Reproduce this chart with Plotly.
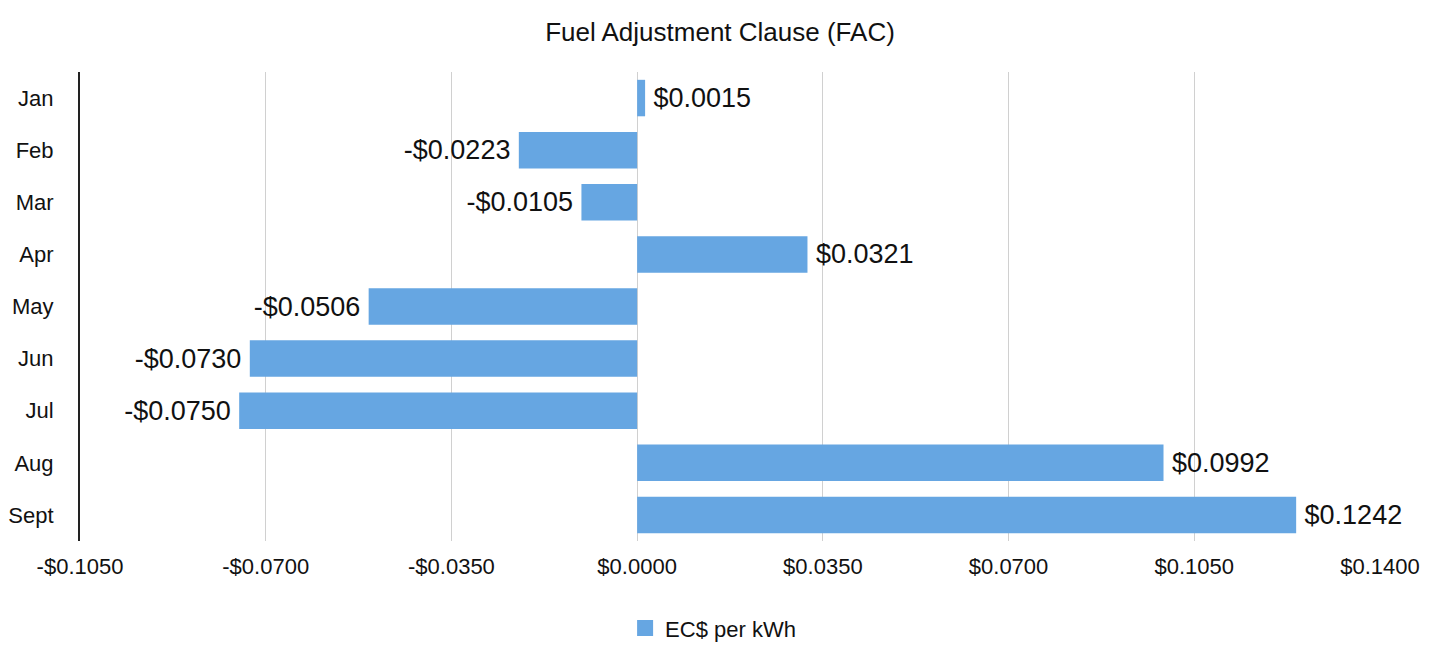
import plotly.graph_objects as go

months = ["Jan", "Feb", "Mar", "Apr", "May", "Jun", "Jul", "Aug", "Sept"]
values = [0.0015, -0.0223, -0.0105, 0.0321, -0.0506, -0.0730, -0.0750, 0.0992, 0.1242]
tick_vals = [-0.105, -0.07, -0.035, 0.0, 0.035, 0.07, 0.105, 0.14]
tick_text = ["-$0.1050", "-$0.0700", "-$0.0350", "$0.0000", "$0.0350", "$0.0700", "$0.1050", "$0.1400"]
series_name = "EC$ per kWh"

labels = [("-$" if v < 0 else "$") + f"{abs(v):.4f}" for v in values]
bar_color = "#66A6E2"

fig = go.Figure()
fig.add_trace(go.Bar(
    x=values, y=months, orientation="h",
    marker=dict(color=bar_color, line=dict(width=0)),
    text=["\u2009" + t if v >= 0 else t + "\u2009" for t, v in zip(labels, values)],
    textposition="outside", cliponaxis=False,
    textfont=dict(size=27, color="#111111"),
    name=series_name, showlegend=False,
))
fig.add_trace(go.Scatter(
    x=[None], y=[None], mode="markers", name=series_name,
    marker=dict(symbol="square", size=21, color=bar_color),
    showlegend=True,
))

fig.update_layout(
    width=1440, height=655,
    paper_bgcolor="white", plot_bgcolor="white",
    font=dict(family="Liberation Sans, Arial, sans-serif", color="#111111"),
    title=dict(text="Fuel Adjustment Clause (FAC)", x=0.5, xanchor="center", y=0.951, yanchor="middle",
               font=dict(size=26, color="#111111")),
    margin=dict(l=80, r=60, t=72, b=114, autoexpand=False),
    bargap=0.3,
    xaxis=dict(range=[-0.105, 0.14], tickvals=tick_vals, ticktext=tick_text,
               showgrid=True, gridcolor="#D0D0D0", gridwidth=1, zeroline=False, automargin=False,
               tickfont=dict(size=22), ticks="", showline=False, ticklabelstandoff=10),
    yaxis=dict(autorange="reversed", showline=True, linecolor="#222222", linewidth=2, automargin=False,
               tickfont=dict(size=22), ticks="", showgrid=False, ticklabelstandoff=20),
    legend=dict(orientation="h", x=0.487, xanchor="center", yref="container", y=0.041, yanchor="middle",
                font=dict(size=22)),
    showlegend=True,
)
fig.write_html("out.html")
